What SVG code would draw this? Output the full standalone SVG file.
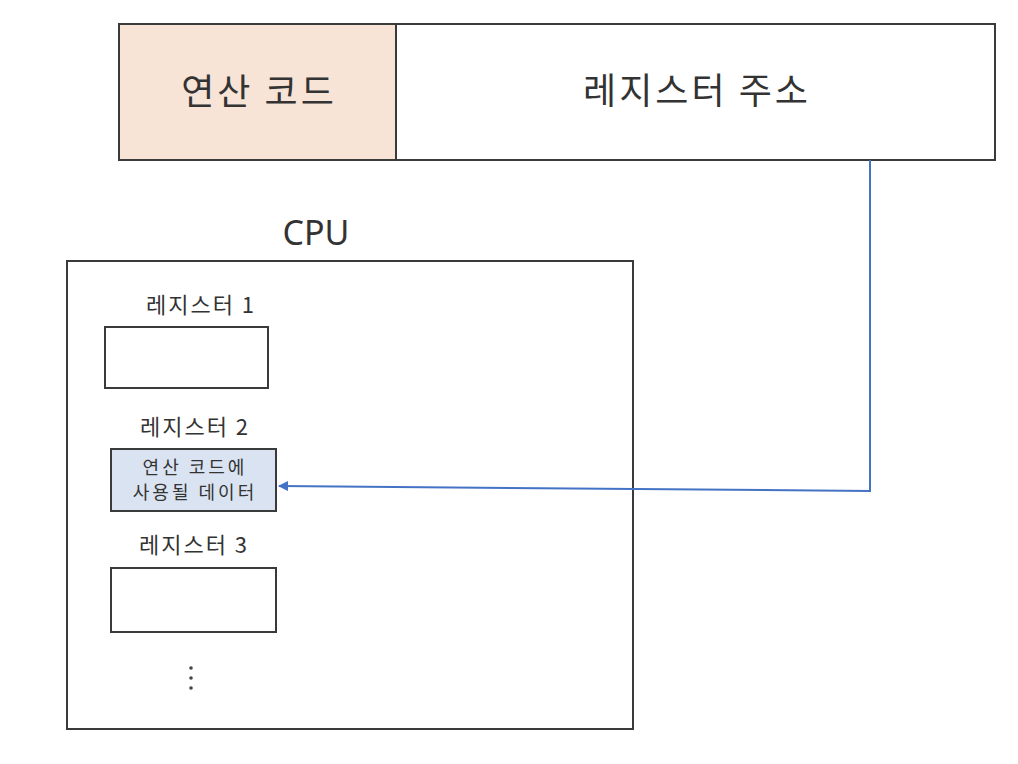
<svg xmlns="http://www.w3.org/2000/svg" width="1018" height="764" viewBox="0 0 1018 764">
<style>
.box{stroke:#3a3a3a;stroke-width:2;fill:#ffffff}
.t{font-family:"Noto Sans CJK KR","Noto Sans",sans-serif;fill:#333;text-anchor:middle}
.big{font-size:36px;letter-spacing:3px}
.lbl{font-size:22px;letter-spacing:2px}
.sm{font-size:18px;letter-spacing:3px}
.conn{stroke:#4472C4;stroke-width:2;fill:none}
</style>
<defs>
<marker id="ah" viewBox="0 0 10 10" refX="9" refY="5" markerWidth="5" markerHeight="5" orient="auto">
<path d="M0,0 L10,5 L0,10 z" fill="#4472C4"/>
</marker>
</defs>
<rect width="1018" height="764" fill="#ffffff"/>
<g id="opcode">
<rect class="box" x="119" y="24" width="277" height="136" style="fill:#F7E4D7"/>
<text class="t big" x="259" y="105">연산 코드</text>
</g>
<g id="regaddr">
<rect class="box" x="396" y="24" width="599" height="136"/>
<text class="t big" x="697" y="104">레지스터 주소</text>
</g>
<g id="cpu">
<rect class="box" x="67" y="261" width="566" height="468"/>
<text class="t" x="316" y="245" style="font-family:'Noto Sans',sans-serif;font-size:34px">CPU</text>
</g>
<g id="reg1">
<text class="t lbl" x="201" y="313">레지스터 1</text>
<rect class="box" x="105" y="327" width="163" height="61"/>
</g>
<g id="reg2">
<text class="t lbl" x="195" y="435">레지스터 2</text>
<rect class="box" x="111" y="449" width="165" height="62" style="fill:#DAE3F1"/>
<text class="t sm" x="195" y="474">연산 코드에</text>
<text class="t sm" x="195" y="499">사용될 데이터</text>
</g>
<g id="reg3">
<text class="t lbl" x="194" y="553">레지스터 3</text>
<rect class="box" x="111" y="568" width="165" height="64"/>
</g>
<g id="more">
<circle cx="191" cy="668" r="1.8" fill="#444"/>
<circle cx="191" cy="678" r="1.8" fill="#444"/>
<circle cx="191" cy="688" r="1.8" fill="#444"/>
</g>
<g id="connectors">
<polyline class="conn" points="870,160 870,491 279,486" marker-end="url(#ah)"/>
</g>
</svg>
